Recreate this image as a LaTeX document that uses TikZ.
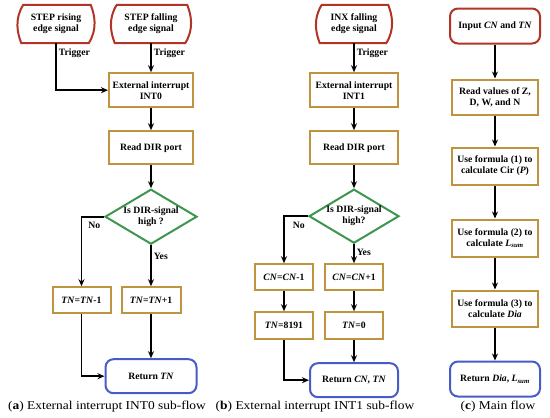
\documentclass[tikz,border=0pt]{standalone}
\usepackage{fontspec}
\setmainfont{Liberation Serif}
\newfontfamily\capfont[FakeStretch=1.12]{Liberation Serif}
\usetikzlibrary{arrows.meta, positioning, shapes.geometric, calc}

\definecolor{sigred}{RGB}{178,52,38}
\definecolor{boxgold}{RGB}{190,148,62}
\definecolor{decgreen}{RGB}{62,150,78}
\definecolor{retblue}{RGB}{72,92,200}

\tikzset{
  sig/.style={minimum height=38pt, inner sep=1pt, align=center,
              font=\fontsize{9.7}{11}\selectfont\bfseries},
  sigline/.style={draw=sigred, line width=2pt, fill=white},
  box/.style={draw=boxgold, line width=2pt, fill=white, minimum height=34pt,
              inner sep=2pt, align=center, font=\fontsize{9.7}{11}\selectfont\bfseries},
  calcbox/.style={box, minimum width=58pt, minimum height=26pt},
  dec/.style={diamond, draw=decgreen, line width=2pt, fill=white, aspect=1.7,
              inner sep=0pt, minimum width=92pt, minimum height=55pt, align=center,
              font=\fontsize{9.7}{11}\selectfont\bfseries},
  ret/.style={draw=retblue, line width=2pt, rounded corners=8pt, fill=white,
              minimum height=34pt, align=center, font=\fontsize{9.7}{11}\selectfont\bfseries},
  inp/.style={ret, draw=sigred},
  arr/.style={->, line width=1.6pt, >={Stealth[length=7pt, width=6pt]}},
  lbl/.style={inner sep=2pt, font=\fontsize{9.7}{11}\selectfont\bfseries},
  captext/.style={font=\capfont\fontsize{12}{14}\selectfont}
}

% wavy-sided frame round a signal node
\newcommand{\sigframe}[1]{%
  \draw[sigline] ($(#1.north west)+(4,0)$) -- ($(#1.north east)+(-2,0)$)
    .. controls ($(#1.north east)+(2,-10)$) and ($(#1.south east)+(5,14)$) .. ($(#1.south east)+(-4,0)$)
    -- ($(#1.south west)+(2,0)$)
    .. controls ($(#1.south west)+(-2,10)$) and ($(#1.north west)+(-5,-14)$) .. cycle;}

\begin{document}
\begin{tikzpicture}[x=1pt, y=1pt, node distance=22pt]
  \useasboundingbox (0,0) rectangle (550,-418);

  % (a) INT0 sub-flow
  \node[sig, minimum width=73pt] (sr) at (56,-24) {};
  \node[sig, minimum width=76pt] (sf) at (151,-24) {};
  \sigframe{sr}
  \sigframe{sf}
  \node[sig] (srt) at (sr) {STEP rising\\edge signal};
  \node[sig] (sft) at (sf) {STEP falling\\edge signal};
  \node[box, minimum width=84pt, below=29pt of sf] (ei0) {External interrupt\\INT0};
  \node[box, minimum width=84pt, minimum height=33pt, below=of ei0] (rd0) {Read DIR port};
  \node[dec, below=23pt of rd0] (dec0) {Is DIR-signal\\high ?};
  \node[calcbox, minimum width=59pt, below=41pt of dec0] (tp0) {\textit{TN}=\textit{TN}+1};
  \node[calcbox, left=9pt of tp0] (tm0) {\textit{TN}=\textit{TN}-1};
  \node[ret, minimum width=91pt, below=44pt of tp0] (ret0) {Return \textit{TN}};

  \draw[arr] (sr.south) |- node[lbl, pos=0.11, right] (trg0) {Trigger} (ei0.west);
  \draw[arr] (sf.south) -- node[lbl, pos=0.34, right] (trg1) {Trigger} (ei0.north);
  \draw[arr] (ei0) -- (rd0);
  \draw[arr] (rd0) -- (dec0);
  \draw[arr] (dec0.west) -| node[lbl, pos=0.5, anchor=north west, xshift=4pt, yshift=-3pt] (no0) {No} (tm0.north);
  \draw[arr] (dec0.south) -- node[lbl, pos=0.28, right] (yes0) {Yes} (tp0.north);
  \draw[arr] (tm0.south) |- (ret0.west);
  \draw[arr] (tp0) -- (ret0);

  % (b) INT1 sub-flow
  \node[sig, minimum width=72pt] (inx) at (354,-24) {};
  \sigframe{inx}
  \node[sig] (inxt) at (inx) {INX falling\\edge signal};
  \node[box, minimum width=88pt, below=29pt of inx] (ei1) {External interrupt\\INT1};
  \node[box, minimum width=88pt, minimum height=33pt, below=of ei1] (rd1) {Read DIR port};
  \node[dec, minimum width=90pt, minimum height=54pt, below=23pt of rd1] (dec1) {Is DIR-signal\\high?};
  \node[calcbox, below=19pt of dec1] (cp1) {\textit{CN}=\textit{CN}+1};
  \node[calcbox, left=10pt of cp1] (cm1) {\textit{CN}=\textit{CN}-1};
  \node[calcbox, minimum height=27pt, below=20pt of cp1] (t0) {\textit{TN}=0};
  \node[calcbox, minimum height=27pt, left=10pt of t0] (t8191) {\textit{TN}=8191};
  \node[ret, minimum width=88pt, below=of t0] (ret1) {Return \textit{CN}, \textit{TN}};

  \draw[arr] (inx.south) -- node[lbl, pos=0.34, right] (trg2) {Trigger} (ei1.north);
  \draw[arr] (ei1) -- (rd1);
  \draw[arr] (rd1) -- (dec1);
  \draw[arr] (dec1.west) -| node[lbl, pos=0.5, anchor=north west, xshift=6pt, yshift=-3pt] (no1) {No} (cm1.north);
  \draw[arr] (dec1.south) -- node[lbl, pos=0.45, right] (yes1) {Yes} (cp1.north);
  \draw[arr] (cm1) -- (t8191);
  \draw[arr] (cp1) -- (t0);
  \draw[arr] (t8191.south) |- (ret1.west);
  \draw[arr] (t0) -- (ret1);

  % (c) main flow
  \node[inp, minimum width=90pt, minimum height=35pt] (cn) at (495,-26) {Input \textit{CN} and \textit{TN}};
  \node[box, minimum width=86pt, minimum height=35pt, below=34pt of cn] (rv) {Read values of Z,\\D, W, and N};
  \node[box, minimum width=86pt, minimum height=37pt, below=31pt of rv] (f1) {Use formula (1) to\\calculate Cir (\textit{P})};
  \node[box, minimum width=86pt, minimum height=37pt, below=33pt of f1] (f2) {Use formula (2) to\\calculate \textit{L}\textsubscript{\textit{sum}}};
  \node[box, minimum width=86pt, minimum height=36pt, below=32pt of f2] (f3) {Use formula (3) to\\calculate \textit{Dia}};
  \node[ret, minimum width=90pt, minimum height=35pt, below=33pt of f3] (retc) {Return \textit{Dia}, \textit{L}\textsubscript{\textit{sum}}};

  \draw[arr] (cn) -- (rv);
  \draw[arr] (rv) -- (f1);
  \draw[arr] (f1) -- (f2);
  \draw[arr] (f2) -- (f3);
  \draw[arr] (f3) -- (retc);

  % captions
  \node[captext] (capa) at (107,-407) {(\textbf{a}) External interrupt INT0 sub-flow};
  \node[captext] (capb) at (315,-407) {(\textbf{b}) External interrupt INT1 sub-flow};
  \node[captext] (capc) at (498,-407) {(\textbf{c}) Main flow};
\end{tikzpicture}
\end{document}
